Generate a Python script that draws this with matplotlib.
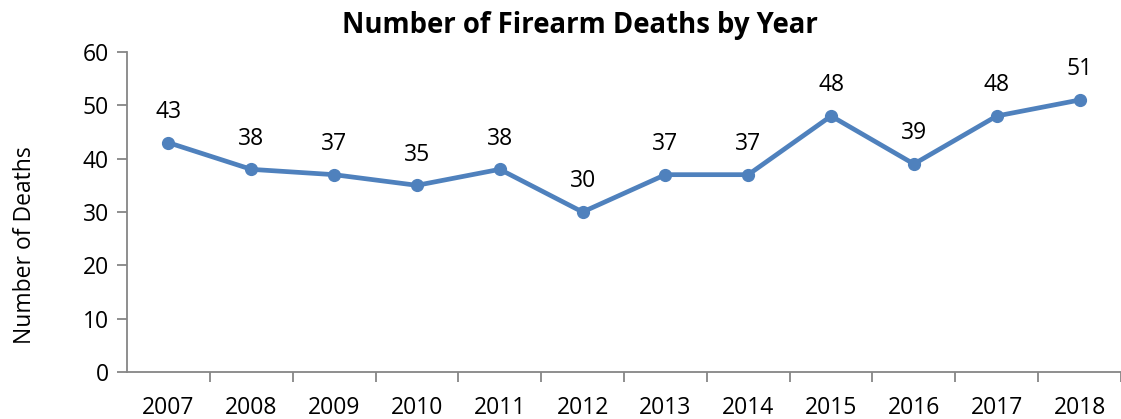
import matplotlib
matplotlib.use("Agg")
import matplotlib.pyplot as plt

years = ["2007", "2008", "2009", "2010", "2011", "2012", "2013", "2014", "2015", "2016", "2017", "2018"]
deaths = [43, 38, 37, 35, 38, 30, 37, 37, 48, 39, 48, 51]
yticks = [0, 10, 20, 30, 40, 50, 60]

plt.rcParams['font.family'] = ['Open Sans', 'DejaVu Sans']

W, H = 1121, 419
fig = plt.figure(figsize=(W / 100, H / 100), dpi=100)
left, right_px, top_px, bottom_px = 127, 1121, 52, 372
ax = fig.add_axes([left / W, (H - bottom_px) / H, (right_px - left) / W, (bottom_px - top_px) / H])

x = list(range(len(years)))
color = '#4F81BD'
txt = '#000000'
ax.plot(x, deaths, color=color, lw=3.4, marker='o', markersize=8.5, solid_joinstyle='round')
for xi, v in zip(x, deaths):
    ax.annotate(str(v), (xi, v), xytext=(0, 22), textcoords='offset points',
                ha='center', va='center', fontsize=16.5, color=txt)

step = 83.33
ax.set_xlim(-0.5, -0.5 + (right_px - left) / step)
ax.set_ylim(0, 60)
ax.set_yticks(yticks)
ax.set_yticklabels([str(t) for t in yticks])
ax.set_xticks([i + 0.5 for i in range(len(years))])
ax.set_xticklabels([])
ax.set_xticks(x, minor=True)
ax.set_xticklabels(years, minor=True)

gray = '#868686'
for s in ['top', 'right']:
    ax.spines[s].set_visible(False)
for s in ['left', 'bottom']:
    ax.spines[s].set_color(gray)
    ax.spines[s].set_linewidth(1.3)
ax.tick_params(axis='y', which='major', length=7, width=1.3, color=gray, labelsize=16.5, pad=6, labelcolor=txt)
ax.tick_params(axis='x', which='major', length=7, width=1.3, color=gray)
ax.tick_params(axis='x', which='minor', length=0, labelsize=16.5, pad=17, labelcolor=txt)

fig.text(580 / W, 1 - 26 / H, "Number of Firearm Deaths by Year", ha='center', va='center',
         fontsize=19.8, fontweight='bold', color=txt)
fig.text(25 / W, 1 - 245 / H, "Number of Deaths", rotation=90, ha='center', va='center',
         fontsize=16.5, color=txt)

fig.savefig("out.png", dpi=100)
